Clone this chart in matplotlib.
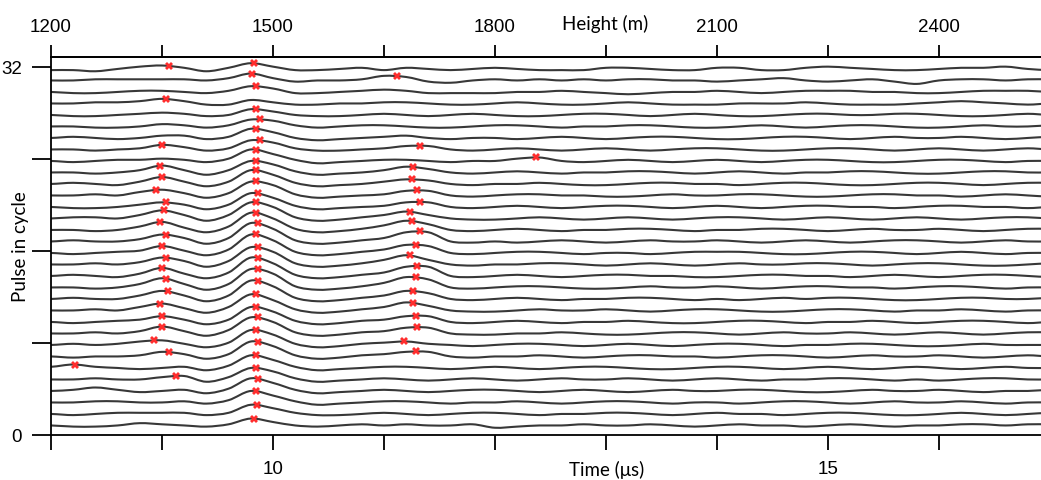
import numpy as np
import matplotlib.pyplot as plt
from matplotlib.path import Path
from matplotlib.patches import PathPatch

# sample times of every trace (us)
time_us = np.round(np.arange(8.0, 17.01, 0.2), 1)

# pulse number of each trace, top to bottom
pulses = list(range(32, 0, -1))

# trace amplitudes in tenths of the trace spacing (pulse 32 first)
traces = [
    [-1, -1, -2, 0, 2, 3, 1, -2, 1, 5, 2, -1, -1, 0, 1, -1, 1, 0, -1, 0, 1, 0, -1, -1, -1, 1, 1, 0, -1, -1, 1, 1, -1, -1, 1, 2, 1, 0, -1, -1, 0, 1, 1, 2, 0, -1],
    [0, 0, 1, 1, 1, 1, 1, 0, 2, 6, 2, -1, 0, 0, 1, 4, 3, -1, -2, 0, 1, 0, 1, 0, 1, 0, 1, 1, 0, 0, -1, 0, 1, 2, 0, -1, 0, 1, -1, -3, 0, 1, 1, 0, 1, 1],
    [0, -1, -1, 0, 1, 1, 0, -1, 1, 5, 3, -1, -1, 0, 1, 2, 1, -1, -1, -1, -1, 0, 0, 1, 0, -1, -2, -1, 0, 0, 1, 0, -1, 0, 1, 1, 1, 0, 0, -1, -1, 0, 1, 1, 1, 0],
    [0, 0, 1, 1, 2, 4, 2, -1, -1, 3, 1, -1, -1, 0, 0, 1, 1, 0, -1, -1, 0, 1, 0, -1, -1, 0, 1, 0, -1, -1, -1, 0, 0, 0, 1, 0, -1, -1, -1, 0, 1, 2, 1, 0, -1, 0],
    [0, -1, -1, 0, 1, 2, 1, -1, 0, 5, 3, 0, -1, -1, 0, 1, 0, -1, 0, 1, 0, -1, -1, 0, 1, 1, 0, -1, 0, 1, 0, -1, -1, 0, 1, 1, 0, 0, 1, 1, 0, -1, -1, 0, 1, 0],
    [0, 0, -1, -1, 0, 2, 1, -1, 1, 6, 5, 1, -1, 0, 1, 1, 0, -1, -1, 0, 1, 1, 0, -1, 0, 0, 1, 1, 0, -1, -1, 0, 1, 0, -1, 0, 1, 1, 0, -1, -1, 0, 1, 0, 0, 1],
    [0, 1, 0, -1, 0, 2, 2, -1, 1, 8, 5, 0, -2, -1, 0, 1, 2, 0, -1, 0, 0, -1, 0, 1, 0, -1, 0, 1, 1, 0, -1, -1, 0, 1, 1, 0, -1, 0, 1, 0, 0, 1, 0, -1, 0, 1],
    [0, 0, -1, 0, 1, 4, 2, -1, 1, 8, 6, 1, -1, -1, 0, 1, 3, 3, 0, -1, 0, 1, 0, -1, 0, 1, 0, -1, 0, 1, 1, 0, -1, -1, 0, 1, 1, 0, -1, 0, 1, 0, -1, 0, 1, 0],
    [0, -1, 0, 1, 1, 2, 1, -1, 2, 10, 6, 1, -2, -1, 0, 1, 1, 0, -1, 0, 0, 2, 3, 0, -1, 0, 1, 0, -1, 0, 1, 0, -1, 0, 1, 1, 0, -1, -1, 0, 1, 1, 0, -1, 0, 0],
    [0, 0, -1, 0, 2, 6, 2, -2, 2, 10, 7, 1, -2, -1, 0, 2, 5, 3, 0, -1, 0, 1, 0, -1, 0, 0, 1, 1, 0, -1, 0, 1, 0, -1, 0, 0, 1, 1, 0, -1, -1, 0, 1, 1, 0, 0],
    [0, 1, 0, -1, 2, 6, 2, -2, 2, 12, 8, 1, -2, -1, 0, 2, 4, 3, 0, -1, 0, 0, 1, 0, -1, -1, 0, 1, 1, 0, 0, -1, 0, 1, 1, 0, -1, -1, 0, 1, 1, 0, -1, 0, 1, 1],
    [0, 0, 1, 0, 3, 5, 2, -2, 2, 12, 9, 1, -2, -1, 0, 1, 4, 4, 0, -1, 0, 1, 1, 0, 0, -1, -1, 0, 1, 0, 0, 1, 1, 0, -1, -1, 0, 1, 1, 0, 0, -1, 0, 1, 0, -1],
    [0, -1, -1, 0, 2, 4, 2, -2, 2, 12, 8, 1, -2, -1, 0, 1, 4, 4, 0, -1, 0, 1, 0, -1, 0, 1, 1, 0, -1, 0, 1, 0, -1, 0, 1, 1, 0, 0, -1, 0, 1, 1, 0, 0, -1, 0],
    [0, 1, 1, 0, 3, 7, 3, -2, 3, 14, 10, 1, -2, -1, 1, 3, 6, 3, 0, -1, -1, 0, 1, 0, -1, 0, 1, 0, -1, 0, 1, 1, 0, -1, 0, 1, 0, -1, 0, 1, 0, -1, 0, 1, 1, 0],
    [0, 0, -1, 0, 3, 7, 2, -2, 3, 15, 10, 1, -2, -1, 1, 4, 8, 5, 0, -1, 0, 1, 0, -1, 0, 0, 1, 1, 0, -1, 0, 0, 1, 1, 0, -1, 0, 1, 0, 0, 1, 0, -1, 0, 1, 1],
    [0, 1, 0, 0, 2, 6, 3, -2, 3, 16, 11, 1, -2, -1, 1, 3, 8, 8, 0, -1, 0, -1, 0, 1, 0, -1, 0, 1, 0, 0, 1, 0, -1, 0, 1, 0, -1, 0, 1, 1, 0, -1, 0, 1, 0, 0],
    [0, -1, 0, 1, 2, 6, 2, -2, 3, 16, 11, 1, -2, -1, 1, 3, 7, 6, 0, -1, 0, 1, 1, 0, -1, 0, 0, -1, 0, 1, 1, 1, 0, -1, -1, 0, 1, 1, 0, -1, 0, 1, 0, -1, 0, 0],
    [0, 0, 1, 0, 2, 6, 3, -2, 3, 15, 11, 1, -2, -1, 1, 4, 8, 4, 0, -1, 0, 0, 1, 1, 0, -1, 0, 1, 0, -1, 0, 1, 0, 0, 1, 1, 0, -1, 0, 1, 1, 0, -1, -1, 0, 1],
    [0, 1, 0, -1, 2, 7, 2, -2, 3, 16, 11, 1, -2, -1, 1, 3, 8, 8, 0, -1, 0, 1, 0, -1, 0, 1, 1, 0, 0, -1, -1, 0, 1, 1, 0, 0, -1, 0, 1, 0, -1, 0, 1, 1, 0, -1],
    [0, 0, -1, 0, 3, 8, 3, -2, 3, 16, 12, 1, -2, -1, 1, 4, 9, 7, 0, -1, 0, 1, 1, 0, -1, -1, 0, 1, 0, 0, 1, 0, -1, 0, 1, 1, 0, 0, -1, 0, 1, 1, 0, -1, 0, 0],
    [0, 1, 0, 0, 3, 7, 3, -2, 3, 16, 11, 1, -2, -1, 1, 3, 7, 5, 0, -1, 0, 1, 0, -1, 0, 0, 1, 1, 0, -1, 0, -1, 0, 1, 0, 1, 1, 0, -1, -1, 0, 1, 1, 0, 0, 1],
    [0, 0, 1, 0, 3, 6, 2, -2, 3, 14, 9, 1, -2, -1, 1, 3, 7, 4, 0, -1, -1, 0, 1, 0, 0, 1, 0, -1, 0, 1, 1, 0, -1, -1, 0, 1, 1, 0, -1, 0, 0, 1, 0, -1, 0, 0],
    [0, -1, 0, 1, 2, 5, 2, -2, 2, 13, 9, 1, -2, -1, 1, 2, 5, 5, 0, -1, 0, 1, 0, -1, 0, 0, 1, 0, -1, -1, 0, 1, 1, 0, -1, 0, 0, 1, 0, -1, 0, 1, 1, 0, -1, 0],
    [0, 0, 1, 0, 2, 6, 2, -2, 3, 14, 10, 1, -2, -1, 1, 2, 5, 5, 0, -1, -1, 0, 0, 1, 0, -1, -1, 0, 1, 1, 0, -1, 0, 1, 0, 0, 1, 0, -1, 0, 1, 0, -1, 0, 1, 1],
    [0, 1, 0, 1, 3, 4, 1, -2, 2, 13, 9, 1, -2, -1, 1, 2, 3, 1, 0, -1, 0, 1, 1, 0, -1, 0, 1, 0, -1, 0, 1, 1, 0, -1, 0, 0, 1, 1, 0, -1, -1, 0, 1, 0, 0, 0],
    [0, -1, 0, 0, 1, 4, 2, -2, 2, 13, 9, 1, -2, -1, 1, 2, 4, 4, 0, -1, 0, 0, 1, 0, -1, 0, 1, 1, 0, 0, -1, 0, 1, 1, 0, -1, 0, 1, 0, 0, 1, 0, -1, 0, 1, 0],
    [1, 3, 1, 0, -1, 0, 1, -2, 2, 11, 7, 1, -2, -1, 0, 1, 1, 0, -1, 0, 1, 0, -1, 0, 1, 1, 0, -1, -1, 0, 1, 1, 0, -1, 0, 1, 0, -1, 0, 1, 0, -1, 0, 1, 0, 0],
    [0, 0, 1, 0, 0, 2, 3, -2, 2, 10, 7, 1, -2, -1, 0, 1, 0, -1, 0, 1, 0, -1, 0, 1, 0, 0, 1, 0, -1, 0, 1, 0, -1, 0, 0, 1, 1, 0, -1, 0, -1, 0, 1, 1, 0, 0],
    [0, 1, 3, 1, -1, 0, 1, -2, 2, 11, 7, 1, -2, -1, 0, 1, 0, -1, 0, 1, 1, 0, -1, 0, 1, 0, -1, 0, 1, 0, 0, 1, 1, 0, -1, -1, 0, 1, 0, 0, 1, 0, -1, 0, 0, 1],
    [0, 0, 1, 1, 0, 0, 1, -1, 2, 10, 6, 1, -2, -1, 0, 1, 1, 0, -1, 0, 0, 1, 0, -1, 0, 1, 1, 0, -1, 0, 0, -1, 0, 1, 1, 0, -1, 0, 1, 0, 0, 1, 0, -1, 0, 0],
    [0, -1, 0, 1, 1, 1, 1, -1, 1, 8, 5, 1, -1, -1, 0, 1, 0, -1, 0, 1, 1, 0, -1, 0, 0, 1, 1, 0, -1, 0, 1, 0, 0, -1, 0, 1, 1, 0, -1, -1, 0, 1, 0, -1, 0, 1],
    [0, -1, -1, 0, 2, 1, 0, -1, 1, 6, 3, 0, -1, 0, 1, 0, 1, 0, 0, 1, -2, -1, 0, 0, 1, 0, 0, 1, 0, -1, 0, 1, 0, 0, -1, 0, 1, 0, -1, 0, 0, 1, 1, 0, 1, 1],
]

# picked arrivals (red crosses): pulse number and time
pick_pulse = [32, 29, 25, 23, 22, 21, 20, 19, 18, 17, 16, 15, 14, 13, 12, 11, 10, 9, 8, 7, 6, 5,
              32, 31, 30, 28, 27, 26, 25, 24, 23, 22, 21, 20, 19, 18, 17, 16, 15, 14, 13, 12, 11,
              10, 9, 8, 7, 6, 5, 4, 3, 2, 1,
              31, 25, 24, 23, 22, 21, 20, 19, 18, 17, 16, 15, 14, 13, 12, 11, 10, 9, 8, 7]
pick_time = [9.06, 9.04, 9.0, 8.98, 9.0, 8.95, 9.04, 9.02, 8.98, 9.04, 9.0, 9.04, 9.0, 9.04, 9.05, 8.98, 9.0, 9.0, 8.93, 9.06, 8.22, 9.13,
             9.83, 9.81, 9.85, 9.85, 9.88, 9.85, 9.88, 9.85, 9.85, 9.85, 9.85, 9.865, 9.85, 9.85, 9.865, 9.85, 9.865, 9.865, 9.865, 9.865, 9.85,
             9.85, 9.865, 9.85, 9.865, 9.85, 9.85, 9.865, 9.85, 9.855, 9.83,
             11.12, 11.32, 12.37, 11.26, 11.25, 11.30, 11.32, 11.23, 11.25, 11.32, 11.29, 11.23, 11.30, 11.29, 11.26, 11.26, 11.29, 11.30, 11.18, 11.29]

baseline_shift = -0.17


def bezier_controls(y):
    # cubic Bezier control values for a smooth curve through the samples
    n = len(y)
    c1, c2 = [], []
    for i in range(n - 1):
        y_prev = y[i - 1] if i > 0 else y[i]
        y_next = y[i + 2] if i + 2 < n else y[i + 1]
        c1.append(y[i] + (y[i + 1] - y_prev) / 6)
        c2.append(y[i + 1] - (y_next - y[i]) / 6)
    return c1, c2


def trace_path(x, y):
    c1, c2 = bezier_controls(y)
    h = x[1] - x[0]
    verts = [(x[0], y[0])]
    codes = [Path.MOVETO]
    for i in range(len(x) - 1):
        verts += [(x[i] + h / 3, c1[i]), (x[i + 1] - h / 3, c2[i]), (x[i + 1], y[i + 1])]
        codes += [Path.CURVE4] * 3
    return Path(verts, codes)


def value_at(x, y, t):
    c1, c2 = bezier_controls(y)
    h = x[1] - x[0]
    i = min(int((t - x[0]) // h), len(x) - 2)
    u = (t - x[i]) / h
    return ((1 - u) ** 3 * y[i] + 3 * (1 - u) ** 2 * u * c1[i]
            + 3 * (1 - u) * u ** 2 * c2[i] + u ** 3 * y[i + 1])


fig = plt.figure(figsize=(10.41, 4.81), dpi=100)
ax = fig.add_axes([51 / 1041, 1 - 436 / 481, 990 / 1041, 378 / 481])

curves = {}
for p, vals in zip(pulses, traces):
    y = p + baseline_shift + np.array(vals) / 10.0
    curves[p] = y
    ax.add_patch(PathPatch(trace_path(time_us, y), fill=False, edgecolor='#383838', lw=1.5))

pick_y = [value_at(time_us, curves[p], t) for p, t in zip(pick_pulse, pick_time)]
ax.plot(pick_time, pick_y, 'X', color='#ff2d2d', ms=5.5, mew=0, zorder=5)

ax.set_xlim(8, 8 + 990 / 111)
ax.set_ylim(0, 32 + 10 / 11.5)

for side in ['top', 'left', 'bottom']:
    ax.spines[side].set_linewidth(1.3)
ax.spines['right'].set_visible(False)

tick_font = {'family': 'Liberation Sans', 'size': 13.5}

ax.set_xticks(range(8, 17))
ax.set_xticklabels(['', '', '10', '', '', '', '', '15', ''], fontdict=tick_font)
ax.tick_params(axis='x', direction='out', length=11, width=1.3, pad=7)
ax.set_yticks([0, 8, 16, 24, 32])
ax.set_yticklabels(['0', '', '', '', '32'], fontdict=tick_font)
ax.tick_params(axis='y', direction='out', length=14, width=1.3, pad=7)

height_ticks = list(range(1200, 2551, 150))
height_labels = [str(h) if (h - 1200) % 300 == 0 else '' for h in height_ticks]
top = ax.secondary_xaxis('top', functions=(lambda t: 1200 + 150 * (t - 8),
                                           lambda h: 8 + (h - 1200) / 150))
top.set_xticks(height_ticks)
top.set_xticklabels(height_labels, fontdict=tick_font)
top.tick_params(direction='out', length=9, width=1.3, pad=7)
top.spines['top'].set_linewidth(1.3)

label_font = ['Lato', 'DejaVu Sans']
fig.text(605 / 1041, 1 - 24 / 481, 'Height (m)', ha='center', va='center',
         family=label_font, size=13.5)
fig.text(607 / 1041, 1 - 470 / 481, 'Time (μs)', ha='center', va='center',
         family=label_font, size=13.5)
fig.text(21 / 1041, 1 - 247 / 481, 'Pulse in cycle', ha='center', va='center',
         rotation=90, family=label_font, size=13.5)

fig.savefig('out.png', dpi=100)
